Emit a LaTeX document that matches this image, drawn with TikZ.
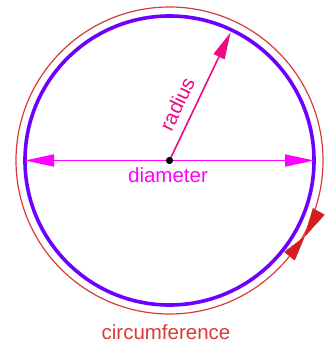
\documentclass[tikz,border=0pt]{standalone}
\usepackage{fontspec}
\setmainfont{Liberation Sans}
\usetikzlibrary{arrows.meta,calc}
\definecolor{purp}{HTML}{6E00FF}
\definecolor{circred}{HTML}{D83A3A}
\definecolor{headred}{HTML}{D21E1E}
\definecolor{radpink}{HTML}{EE0A84}
\definecolor{diamag}{HTML}{FF00FF}
\tikzset{
  lbl/.style={font=\fontsize{20.5}{24}\selectfont, inner sep=0pt},
  purplecircle/.style={draw=purp, line width=3.6pt},
  redcircle/.style={draw=circred, line width=1.2pt},
  radarrow/.style={draw=radpink, line width=1.6pt, -{Triangle[length=27pt,width=12pt]}},
  diaarrow/.style={draw=diamag, line width=1.8pt, {Triangle[length=29pt,width=12pt]}-{Triangle[length=29pt,width=12pt]}},
  bowhead/.style={fill=headred, draw=headred, line width=0.4pt, line join=round},
}
\begin{document}
\begin{tikzpicture}[x=1pt,y=1pt]
\useasboundingbox (0,0) rectangle (331,347);
\coordinate (O) at (169.5,186.5);
\coordinate (L) at ($(O)+(-144.5,0)$);
\coordinate (Rt) at ($(O)+(144.5,0)$);
\coordinate (R) at ($(O)+(64.5:142)$);
% bowtie pinch point on the red circle
\coordinate (P) at ($(O)+(-29.5:155)$);
% upper head (base ahead along counter-clockwise tangent)
\coordinate (U) at ($(P)+(0.4924*29,0.8704*29)$);
\coordinate (U1) at ($(U)+(0.8704*6.5,-0.4924*6.5)$);
\coordinate (U2) at ($(U)+(-0.8704*6.5,0.4924*6.5)$);
% lower head (base behind, bending with circle)
\coordinate (D) at ($(O)+(-38.5:153.5)$);
\coordinate (D1) at ($(D)+(-38.5:6.5)$);
\coordinate (D2) at ($(D)+(-38.5:-6.5)$);
% circles
\draw[purplecircle] (O) circle[radius=144.5];
\draw[redcircle] (O) circle[radius=153.5];
\filldraw[bowhead] (P) -- (U1) -- (U2) -- cycle;
\filldraw[bowhead] (P) -- (D1) -- (D2) -- cycle;
% diameter and radius
\draw[diaarrow] (L) -- (Rt);
\draw[radarrow] (O) -- (R);
\fill[black] (O) circle[radius=3.6];
% labels
\node[lbl, text=diamag, anchor=base] (dlab) at (168,164) {diameter};
\node[lbl, text=radpink, rotate=64.5] (rlab) at (177,243) {radius};
\node[lbl, text=circred, anchor=base] (clab) at (166,8) {circumference};
\end{tikzpicture}
\end{document}
